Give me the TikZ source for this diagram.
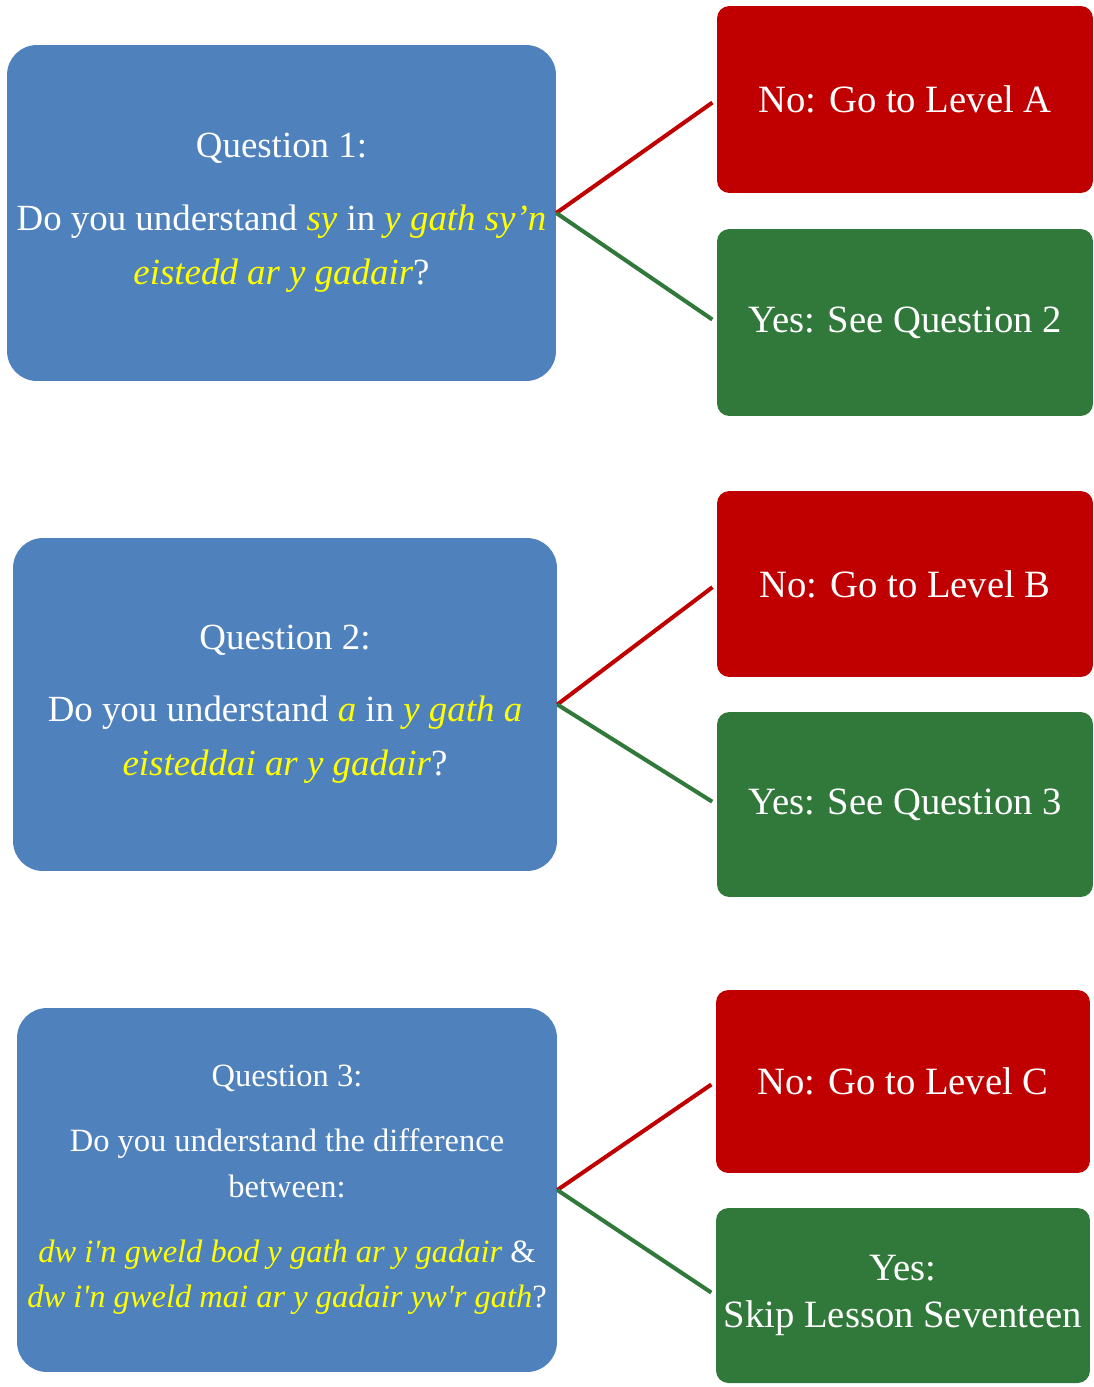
\documentclass[tikz,border=0pt]{standalone}
\usepackage{fontspec}
\setmainfont{Liberation Serif}
\definecolor{qblue}{RGB}{79,129,189}
\definecolor{nored}{RGB}{192,0,0}
\definecolor{yesgreen}{RGB}{49,120,59}
\definecolor{cymyellow}{RGB}{255,255,0}
\newcommand{\cym}[1]{\textcolor{cymyellow}{\itshape #1}}

\begin{document}
\begin{tikzpicture}[x=0.02cm, y=-0.02cm,
  q/.style={rectangle, rounded corners=17pt, fill=qblue, text=white, align=center, inner sep=0pt},
  no/.style={rectangle, rounded corners=7pt, fill=nored, text=white, align=center, inner sep=0pt,
    font=\fontsize{22}{26}\selectfont},
  yes/.style={rectangle, rounded corners=7pt, fill=yesgreen, text=white, align=center, inner sep=0pt,
    font=\fontsize{22}{26.6}\selectfont},
  e/.style={line width=2.3pt, shorten >=3pt}
]
\useasboundingbox (0,0) rectangle (1094,1387);

% --- question boxes ---
\node[q, minimum width=10.98cm, minimum height=6.72cm, font=\fontsize{21}{31}\selectfont] (q1) at (281.5,213)
  {Question 1:\\[10pt]
   Do you understand \cym{sy} in \cym{y gath sy’n}\\
   \cym{eistedd ar y gadair}?};
\node[q, minimum width=10.88cm, minimum height=6.66cm, font=\fontsize{21}{31}\selectfont] (q2) at (285,704.5)
  {Question 2:\\[10pt]
   Do you understand \cym{a} in \cym{y gath a}\\
   \cym{eisteddai ar y gadair}?};
\node[q, minimum width=10.8cm, minimum height=7.28cm, font=\fontsize{18.5}{26}\selectfont] (q3) at (287,1190)
  {Question 3:\\[11pt]
   Do you understand the difference\\
   between:\\[11pt]
   \cym{dw i\textquotesingle n gweld bod y gath ar y gadair} \&\\
   \cym{dw i\textquotesingle n gweld mai ar y gadair yw\textquotesingle r gath}?};

% --- answers ---
\node[no, minimum width=7.52cm, minimum height=3.74cm] (lvA) at (905,99.5) {No: Go to Level A};
\node[yes, minimum width=7.52cm, minimum height=3.74cm] (see2) at (905,322.5) {Yes: See Question 2};
\node[no, minimum width=7.52cm, minimum height=3.72cm] (lvB) at (905,584) {No: Go to Level B};
\node[yes, minimum width=7.52cm, minimum height=3.70cm] (see3) at (905,804.5) {Yes: See Question 3};
\node[no, minimum width=7.48cm, minimum height=3.66cm] (lvC) at (903,1081.5) {No: Go to Level C};
\node[yes, minimum width=7.48cm, minimum height=3.5cm] (skip) at (903,1295.5) {Yes:\\Skip Lesson Seventeen};

% --- connectors ---
\draw[e, nored] (q1.east) -- (lvA.west);
\draw[e, yesgreen] (q1.east) -- (see2.west);
\draw[e, nored] (q2.east) -- (lvB.west);
\draw[e, yesgreen] (q2.east) -- (see3.west);
\draw[e, nored] (q3.east) -- (lvC.west);
\draw[e, yesgreen] (q3.east) -- (skip.west);

\end{tikzpicture}
\end{document}
